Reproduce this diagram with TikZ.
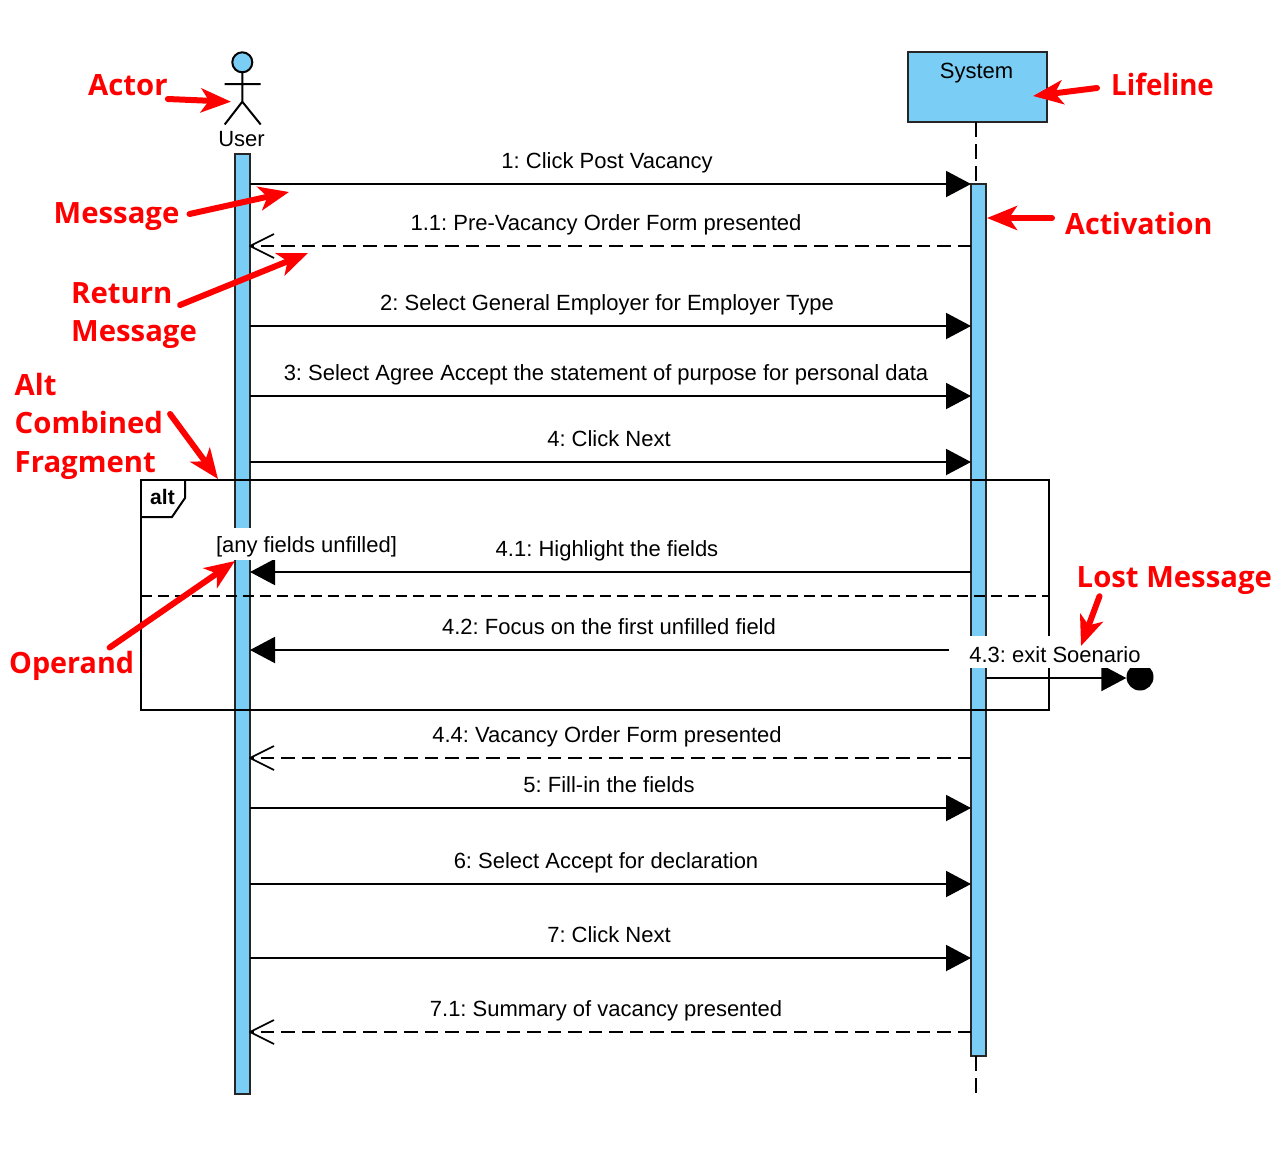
\documentclass[tikz,border=0pt]{standalone}
\usepackage{fontspec}
\setmainfont{Liberation Sans}
\newfontfamily\notefont{Open Sans}
\usetikzlibrary{arrows.meta}
\definecolor{barblue}{RGB}{122,206,245}
\definecolor{notered}{RGB}{255,0,0}
\frenchspacing
\tikzset{
	bar/.style={draw=black!85,fill=barblue,line width=2pt,inner sep=0pt,outer sep=0pt,anchor=north},
	msg/.style={line width=2pt,-{Triangle[length=25pt,width=26pt]}},
	ret/.style={line width=2pt,dash pattern=on 13.5pt off 7pt},
	barb/.style={line width=1.7pt,line join=round},
	life/.style={line width=2pt,dash pattern=on 15pt off 7pt},
	lbl/.style={font=\fontsize{22}{24}\selectfont,inner sep=0pt},
	note/.style={font=\notefont\bfseries\fontsize{29.3}{38.4}\selectfont,text=notered,inner sep=0pt,align=left},
	notearrow/.style={draw=notered,line width=6pt,line cap=round,-{Stealth[length=30pt,width=24pt,inset=8pt]}}
}
\begin{document}
\begin{tikzpicture}[x=1pt,y=-1pt]
	\useasboundingbox (0,0) rectangle (1288,1163);
	% actor
	\node[circle,draw,fill=barblue,line width=2pt,minimum size=20pt,inner sep=0pt,outer sep=0pt] (head) at (242.3,62.3) {};
	\coordinate (hip) at (242.3,101.7);
	\coordinate (armL) at (224.7,84);
	\coordinate (armR) at (260.7,84);
	\coordinate (footL) at (224.7,124.5);
	\coordinate (footR) at (260.7,124.5);
	\draw[line width=2pt] (head.south) -- (hip) (armL) -- (armR) (footL) -- (hip) -- (footR);
	\node[lbl,anchor=base] (user) at (241.5,146) {User};
	% lifelines
	\node[bar,minimum width=139pt,minimum height=70pt,anchor=north west] (sysbox) at (908,52) {};
	\node[lbl,anchor=base] (system) at (976.5,78) {System};
	\node[bar,minimum width=15pt,minimum height=940pt] (userbar) at (242.5,154) {};
	\node[bar,minimum width=15pt,minimum height=872pt] (sysbar) at (978.5,184) {};
	\coordinate (systop) at (976,122);
	\coordinate (sysend) at (976,1097);
	\draw[life] (systop) -- (systop |- sysbar.north);
	\draw[life] (sysend |- sysbar.south) -- (sysend);
	% messages
	\foreach \yy/\xx/\txt in {184/607/{1: Click Post Vacancy},326/607/{2: Select General Employer for Employer Type},396/606/{3: Select Agree Accept the statement of purpose for personal data},462/609/{4: Click Next},808/609/{5: Fill-in the fields},884/606/{6: Select Accept for declaration},958/609/{7: Click Next}}{
		\draw[msg] (userbar.east |- 0,\yy) -- (sysbar.west |- 0,\yy);
		\node[lbl,anchor=base] (m\yy) at (\xx,\yy-16) {\txt};
	}
	\foreach \yy/\xx/\txt in {246/606/{1.1: Pre-Vacancy Order Form presented},758/607/{4.4: Vacancy Order Form presented},1032/606/{7.1: Summary of vacancy presented}}{
		\draw[ret] (sysbar.west |- 0,\yy) -- (userbar.east |- 0,\yy);
		\draw[barb] (userbar.east |- 0,\yy) ++(24,-12) -- ++(-24,12) -- ++(24,12);
		\node[lbl,anchor=base] (m\yy) at (\xx,\yy-16) {\txt};
	}
	\foreach \yy/\xx/\txt in {572/607/{4.1: Highlight the fields},650/609/{4.2: Focus on the first unfilled field}}{
		\draw[msg] (sysbar.west |- 0,\yy) -- (userbar.east |- 0,\yy);
		\node[lbl,anchor=base] (m\yy) at (\xx,\yy-16) {\txt};
	}
	% alt fragment
	\node[draw,line width=2pt,minimum width=908pt,minimum height=230pt,inner sep=0pt,outer sep=0pt,anchor=north west] (altframe) at (140.5,480) {};
	\coordinate (tagA) at (185,480);
	\coordinate (tagB) at (185,498);
	\coordinate (tagC) at (172,517);
	\coordinate (tagD) at (140.5,517);
	\draw[line width=2pt,fill=white] (tagA) -- (tagB) -- (tagC) -- (tagD);
	\node[font=\bfseries\fontsize{21}{24}\selectfont,inner sep=0pt,anchor=base] (alttag) at (162.5,504) {alt};
	\draw[line width=2pt,dash pattern=on 11pt off 6pt] (altframe.west |- 0,596) -- (altframe.east |- 0,596);
	\node[lbl,fill=white,inner xsep=2pt,text height=20pt,text depth=4pt,minimum height=32pt] (guard) at (306.5,544) {[any fields unfilled]};
	% lost message
	\node[circle,fill=black,minimum size=27pt,inner sep=0pt] (lostend) at (1140,677) {};
	\draw[msg] (sysbar.east |- 0,678) -- (lostend.west |- 0,678);
	\node[lbl,fill=white,inner xsep=20pt,text height=24pt,text depth=4pt,minimum height=32pt] (m43) at (1055,652) {4.3: exit Soenario};
	% notes
	\node[note,anchor=base west] (nactor) at (88,95) {Actor};
	\node[note,anchor=base west] (nlife) at (1111,95) {\scalebox{.945}[1]{Lifeline}};
	\node[note,anchor=base west] (nmsg) at (53.5,223) {Message};
	\node[note,anchor=base west] (nact) at (1065,234) {\scalebox{.98}[1]{Activation}};
	\node[note,anchor=north west] (nret) at (71,282) {Return\\Message};
	\node[note,anchor=north west] (nalt) at (14.5,373) {Alt\\Combined\\Fragment};
	\node[note,anchor=base west] (nop) at (9,673) {\scalebox{.98}[1]{Operand}};
	\node[note,anchor=base west] (nlost) at (1076.5,587) {Lost Message};
	\coordinate (tipactor) at (231,101.7);
	\coordinate (tiplife) at (1033,96);
	\coordinate (tipmsg) at (289,192);
	\coordinate (tipact) at (987,218);
	\coordinate (tipret) at (308,253);
	\coordinate (tipalt) at (218,479);
	\coordinate (tipop) at (235,561);
	\coordinate (tiplost) at (1081,646);
	\draw[notearrow] (nactor.east |- 0,99) -- (tipactor);
	\draw[notearrow] (nlife.west |- 0,88) ++(-14,0) -- (tiplife);
	\draw[notearrow] (nmsg.east |- 0,214) ++(10,0) -- (tipmsg);
	\draw[notearrow] (nact.west |- 0,218) ++(-13,0) -- (tipact);
	\draw[notearrow] (nret.north east) ++(-17,23) -- (tipret);
	\draw[notearrow] (nalt.north east) ++(7,41) -- (tipalt);
	\draw[notearrow] (nop.north) ++(38,-3) -- (tipop);
	\draw[notearrow] (nlost.south west) ++(23,2) -- (tiplost);
\end{tikzpicture}
\end{document}
